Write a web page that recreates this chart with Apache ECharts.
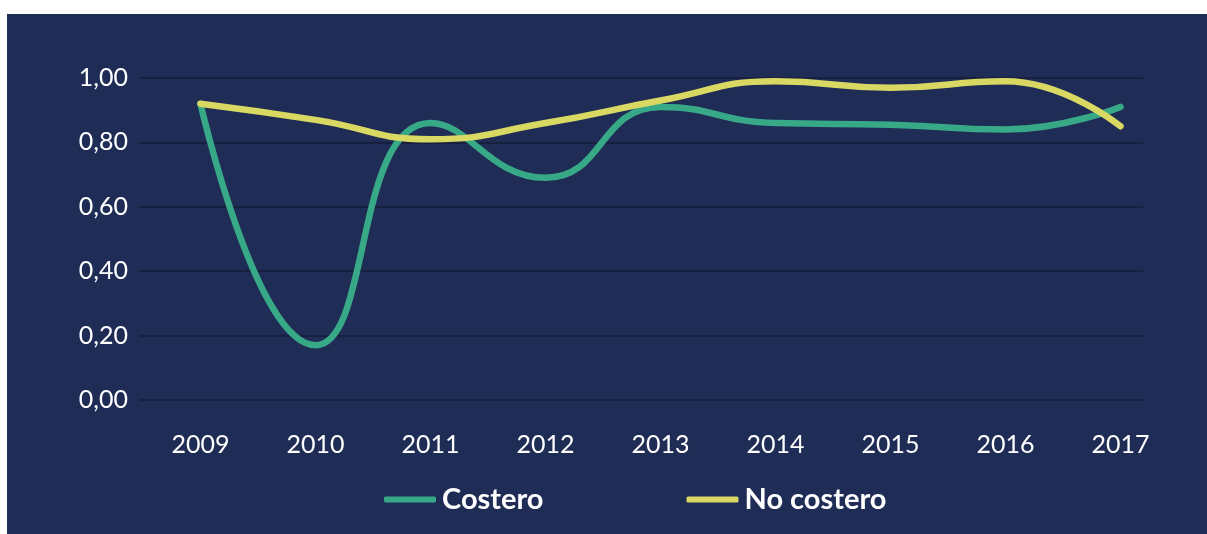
<!DOCTYPE html>
<html>
<head>
<meta charset="utf-8">
<script src="https://cdn.jsdelivr.net/npm/echarts@6/dist/echarts.min.js"></script>
<style>
  html, body { margin: 0; padding: 0; background: #fff; }
  #box { position: absolute; left: 7px; top: 14px; width: 1200px; height: 520px; background: #1f2d56; }
  #chart { width: 100%; height: 100%; }
</style>
</head>
<body>
<div id="box"><div id="chart"></div></div>
<script>
// años
const years = ['2009', '2010', '2011', '2012', '2013', '2014', '2015', '2016', '2017'];
const costero = [0.92, 0.17, 0.86, 0.69, 0.91, 0.86, 0.855, 0.84, 0.91];
const noCostero = [0.92, 0.87, 0.81, 0.86, 0.93, 0.99, 0.97, 0.99, 0.85];
const yTicks = [0, 0.2, 0.4, 0.6, 0.8, 1.0];

const chart = echarts.init(document.getElementById('chart'));
chart.setOption({
  backgroundColor: 'transparent',
  textStyle: { fontFamily: 'Lato' },
  // grid 0: líneas de división y etiquetas del eje y, grid 1: series y años
  grid: [
    { left: 132, right: 64, top: 64, bottom: 134 },
    { left: 136, right: 29, top: 64, bottom: 134 }
  ],
  legend: {
    left: 372,
    top: 466,
    icon: 'roundRect',
    itemWidth: 52,
    itemHeight: 6,
    itemGap: 143,
    textStyle: { color: '#fff', fontSize: 29, fontWeight: 'bold', fontFamily: 'Lato', padding: [0, 0, 0, 1] },
    data: ['Costero', 'No costero']
  },
  xAxis: [
    { type: 'category', gridIndex: 0, data: years, show: false },
    {
      type: 'category',
      gridIndex: 1,
      data: years,
      axisLine: { show: false },
      axisTick: { show: false },
      axisLabel: { color: '#fff', fontSize: 25, margin: 32 }
    }
  ],
  yAxis: [
    {
      type: 'value',
      gridIndex: 0,
      min: yTicks[0],
      max: yTicks[yTicks.length - 1],
      interval: 0.2,
      axisLabel: {
        color: '#fff',
        fontSize: 25,
        margin: 11,
        formatter: v => v.toFixed(2).replace('.', ',')
      },
      splitLine: { lineStyle: { color: '#17203f', width: 2 } }
    },
    {
      type: 'value',
      gridIndex: 1,
      min: yTicks[0],
      max: yTicks[yTicks.length - 1],
      show: false,
      splitLine: { show: false }
    }
  ],
  series: [
    {
      name: 'Costero',
      type: 'line',
      xAxisIndex: 1,
      yAxisIndex: 1,
      smooth: true,
      showSymbol: false,
      data: costero,
      itemStyle: { color: '#38a987' },
      lineStyle: { color: '#38a987', width: 6.5, cap: 'round' }
    },
    {
      name: 'No costero',
      type: 'line',
      xAxisIndex: 1,
      yAxisIndex: 1,
      smooth: true,
      showSymbol: false,
      data: noCostero,
      itemStyle: { color: '#d8d862' },
      lineStyle: { color: '#d8d862', width: 6.5, cap: 'round' }
    }
  ]
});
</script>
</body>
</html>
